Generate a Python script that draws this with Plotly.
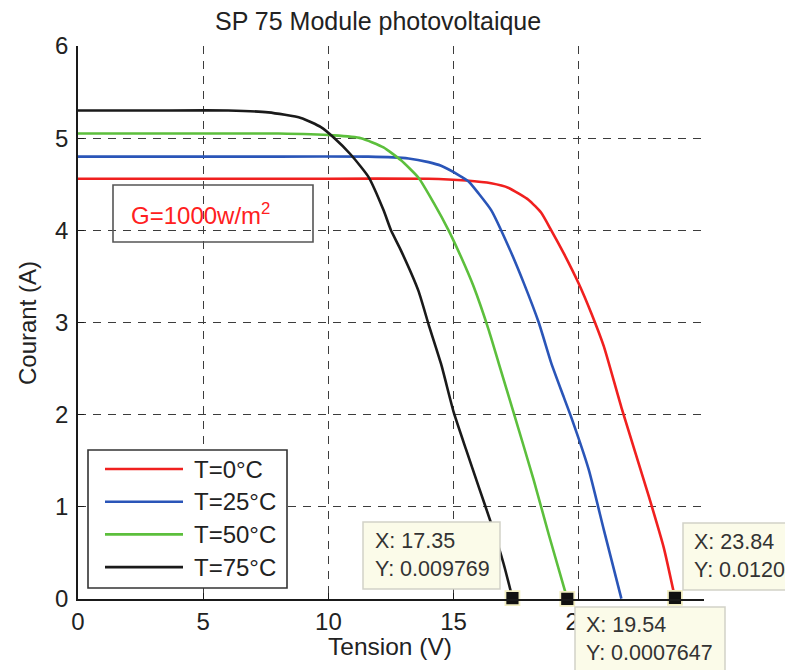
import plotly.graph_objects as go

# I-V characteristics of the SP 75 module at G = 1000 W/m2 for four cell temperatures
series_names = ["T=0°C", "T=25°C", "T=50°C", "T=75°C"]
series_colors = ["#f0201f", "#2a55b8", "#5cbf3c", "#1a1a1a"]

v_t0 = [0, 5, 10, 14, 15.5, 16.5, 17.2, 18.0, 18.5, 18.9, 19.4, 20.0, 20.5, 21.0, 21.7, 22.8, 23.4, 23.84]
i_t0 = [4.56, 4.56, 4.56, 4.56, 4.54, 4.51, 4.46, 4.33, 4.19, 4.00, 3.75, 3.42, 3.10, 2.74, 2.08, 1.11, 0.55, 0.01204]

v_t25 = [0, 4, 8, 11.6, 13.2, 14.0, 14.5, 15.2, 15.6, 16.0, 16.5, 17.2, 17.8, 18.4, 18.9, 19.4, 19.7, 20.4, 21.0, 21.7]
i_t25 = [4.80, 4.80, 4.80, 4.80, 4.78, 4.74, 4.70, 4.60, 4.53, 4.40, 4.22, 3.82, 3.43, 3.00, 2.56, 2.19, 1.97, 1.40, 0.75, 0.004]

v_t50 = [0, 4, 8, 10.2, 11.3, 12.2, 12.9, 13.6, 14.2, 14.8, 15.3, 15.8, 16.4, 16.8, 17.4, 18.2, 18.8, 19.54]
i_t50 = [5.05, 5.05, 5.05, 5.03, 5.00, 4.90, 4.76, 4.57, 4.30, 4.00, 3.71, 3.39, 2.92, 2.56, 2.02, 1.29, 0.70, 0.0007647]

v_t75 = [0, 3, 6, 7.6, 8.9, 9.7, 10.2, 10.9, 11.6, 12.2, 12.5, 12.9, 13.6, 14.0, 14.5, 15.0, 15.5, 16.0, 16.5, 17.0, 17.35]
i_t75 = [5.30, 5.30, 5.30, 5.28, 5.22, 5.12, 5.01, 4.82, 4.58, 4.22, 4.00, 3.78, 3.34, 2.98, 2.55, 2.03, 1.62, 1.22, 0.82, 0.38, 0.009769]

# data tips placed on the open-circuit points
tip_x = [17.35, 19.54, 23.84]
tip_y = [0.009769, 0.0007647, 0.01204]

x_ticks = [0, 5, 10, 15, 20, 25]
y_ticks = [0, 1, 2, 3, 4, 5, 6]

FONT = "Liberation Sans, Arial, sans-serif"
W, H = 785, 670
PL, PT, PW, PH = 78, 46, 626, 553


def px(x):
    return (x - PL) / PW


def py(y):
    return (PT + PH - y) / PH


fig = go.Figure()
for name, color, v, i in zip(series_names, series_colors,
                             [v_t0, v_t25, v_t50, v_t75],
                             [i_t0, i_t25, i_t50, i_t75]):
    fig.add_trace(go.Scatter(x=v, y=i, mode="lines", name=name,
                             line=dict(color=color, width=2.6, shape="spline", smoothing=0.5),
                             cliponaxis=False, showlegend=False))

fig.add_trace(go.Scatter(x=tip_x, y=tip_y, mode="markers",
                         marker=dict(symbol="square", size=14, color="#111111",
                                     line=dict(color="#f3efc4", width=1.8)),
                         cliponaxis=False, showlegend=False))

shapes = []
annotations = []

# hand-drawn legend box with line samples
shapes.append(dict(type="rect", xref="paper", yref="paper",
                   x0=px(88), x1=px(287), y0=py(588), y1=py(450),
                   line=dict(color="#333333", width=1.6), fillcolor="white", layer="above"))
for k, (name, color) in enumerate(zip(series_names, series_colors)):
    yy = 469 + k * 32.7
    shapes.append(dict(type="line", xref="paper", yref="paper",
                       x0=px(105), x1=px(183), y0=py(yy), y1=py(yy),
                       line=dict(color=color, width=2.6), layer="above"))
    annotations.append(dict(xref="paper", yref="paper", x=px(192), y=py(yy),
                            xanchor="left", yanchor="middle", showarrow=False,
                            text=name, font=dict(family=FONT, size=24, color="#222222")))

# irradiance label
shapes.append(dict(type="rect", xref="paper", yref="paper",
                   x0=px(113), x1=px(313), y0=py(242), y1=py(185),
                   line=dict(color="#555555", width=1.6), layer="above"))
annotations.append(dict(xref="paper", yref="paper", x=px(129), y=py(214),
                        xanchor="left", yanchor="middle", showarrow=False,
                        text="G=1000w/m<sup>2</sup>",
                        font=dict(family=FONT, size=24, color="#ff2020")))

# data tip boxes
tip_boxes = [(363, 500, 522, 589), (575, 725, 607, 680), (683, 800, 523, 590)]
tip_text_pos = [(373, 555), (584, 639), (692, 556)]
for (x0, x1, y0, y1), (tx, ty), xv, yv in zip(tip_boxes, tip_text_pos, tip_x, tip_y):
    shapes.append(dict(type="rect", xref="paper", yref="paper",
                       x0=px(x0), x1=px(x1), y0=py(y1), y1=py(y0),
                       line=dict(color="#d2d2c8", width=1.5), fillcolor="#fbfbe9",
                       layer="above"))
    annotations.append(dict(xref="paper", yref="paper", x=px(tx), y=py(ty),
                            xanchor="left", yanchor="middle", showarrow=False, align="left",
                            text=f"X: {xv:g}<br>Y: {yv:.4g}",
                            font=dict(family=FONT, size=21.5, color="#333333")))

# title and axis titles
annotations.append(dict(xref="paper", yref="paper", x=px(378), y=py(21),
                        xanchor="center", yanchor="middle", showarrow=False,
                        text="SP 75 Module photovoltaique",
                        font=dict(family=FONT, size=25, color="#222222")))
annotations.append(dict(xref="paper", yref="paper", x=px(390), y=py(646),
                        xanchor="center", yanchor="middle", showarrow=False,
                        text="Tension (V)",
                        font=dict(family=FONT, size=24.5, color="#222222")))
annotations.append(dict(xref="paper", yref="paper", x=px(27), y=py(323),
                        xanchor="center", yanchor="middle", showarrow=False,
                        text="Courant (A)", textangle=-90,
                        font=dict(family=FONT, size=24, color="#222222")))

grid = dict(showgrid=True, gridcolor="#3c3c3c", gridwidth=1.4, griddash="8px,7px",
            showline=True, linecolor="#1a1a1a", linewidth=1.6,
            ticks="inside", ticklen=6, tickwidth=1.4, tickcolor="#1a1a1a",
            zeroline=False, tickfont=dict(family=FONT, size=24, color="#222222"))

fig.update_layout(
    width=W, height=H,
    margin=dict(l=PL, r=W - PL - PW, t=PT, b=H - PT - PH),
    paper_bgcolor="white", plot_bgcolor="white",
    xaxis=dict(range=[0, 25], tickvals=x_ticks, **grid),
    yaxis=dict(range=[0, 6], tickvals=y_ticks, ticklabelstandoff=3, **grid),
    shapes=shapes, annotations=annotations, showlegend=False,
)

fig.write_html("out.html")
